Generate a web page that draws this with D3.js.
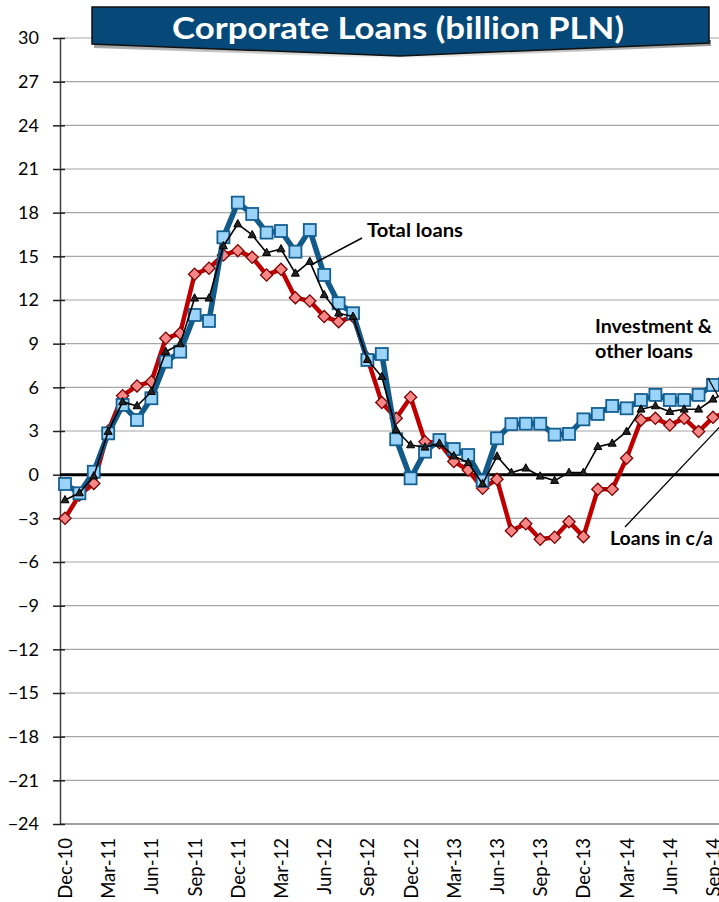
<!DOCTYPE html>
<html>
<head>
<meta charset="utf-8">
<script src="https://cdn.jsdelivr.net/npm/d3@7/dist/d3.min.js"></script>
<style>
  html, body { margin: 0; padding: 0; background: #fff; overflow: hidden; }
  svg { display: block; }
  text { font-family: Lato, "Open Sans", sans-serif; }
</style>
</head>
<body>
<script>
// ---- data ----
const months = ["Dec-10","Jan-11","Feb-11","Mar-11","Apr-11","May-11","Jun-11","Jul-11","Aug-11","Sep-11","Oct-11","Nov-11",
  "Dec-11","Jan-12","Feb-12","Mar-12","Apr-12","May-12","Jun-12","Jul-12","Aug-12","Sep-12","Oct-12","Nov-12",
  "Dec-12","Jan-13","Feb-13","Mar-13","Apr-13","May-13","Jun-13","Jul-13","Aug-13","Sep-13","Oct-13","Nov-13",
  "Dec-13","Jan-14","Feb-14","Mar-14","Apr-14","May-14","Jun-14","Jul-14","Aug-14","Sep-14","Oct-14"];
const tickLabels = ["Dec-10","Mar-11","Jun-11","Sep-11","Dec-11","Mar-12","Jun-12","Sep-12","Dec-12","Mar-13","Jun-13","Sep-13","Dec-13","Mar-14","Jun-14","Sep-14"];
const yTicks = [30,27,24,21,18,15,12,9,6,3,0,-3,-6,-9,-12,-15,-18,-21,-24];

const investmentLoans = [-0.64,-1.28,0.2,2.84,4.79,3.76,5.25,7.76,8.45,10.97,10.56,16.31,
  18.69,17.91,16.63,16.74,15.32,16.81,13.72,11.78,11.09,7.88,8.29,2.43,
  -0.25,1.58,2.38,1.76,1.35,-0.41,2.5,3.47,3.5,3.5,2.75,2.8,
  3.8,4.17,4.72,4.56,5.13,5.48,5.13,5.13,5.48,6.16,6.9];
const totalLoans = [-1.74,-1.26,-0.1,2.96,5.0,4.72,5.7,8.45,8.98,12.12,12.12,15.71,
  17.22,16.47,15.25,15.5,13.83,14.64,12.35,11.09,10.86,7.9,6.73,3.07,
  2.04,1.88,2.15,1.28,0.82,-0.64,1.26,0.14,0.44,-0.11,-0.41,0.14,
  0.14,1.92,2.15,2.96,4.49,4.72,4.33,4.49,4.49,5.18,5.7];
const currentAccountLoans = [-3.0,-1.4,-0.6,3.0,5.43,6.1,6.39,9.37,9.71,13.77,14.18,15.09,
  15.39,14.93,13.72,14.11,12.16,11.93,10.86,10.51,10.86,8.0,4.95,3.87,
  5.32,2.27,2.2,0.9,0.32,-0.94,-0.32,-3.86,-3.37,-4.44,-4.3,-3.23,
  -4.26,-1.01,-1.01,1.13,3.76,3.87,3.41,3.87,2.96,3.94,4.3];

const W = 719, H = 902;
const svg = d3.select("body").append("svg").attr("width", W).attr("height", H);

const x = d3.scaleLinear().domain([0, 45]).range([65, 713]);
const y = d3.scaleLinear().domain([-24, 30]).range([824, 38]);
const axisX = 60;

// gridlines
svg.append("g").selectAll("line").data(yTicks.filter(d => d !== 0 && d !== -24)).join("line")
  .attr("x1", axisX).attr("x2", W + 20)
  .attr("y1", d => y(d)).attr("y2", d => y(d))
  .attr("stroke", "#a6a6a6").attr("stroke-width", 1.2);

// bottom axis line
svg.append("line").attr("x1", axisX).attr("x2", W + 20).attr("y1", y(-24)).attr("y2", y(-24))
  .attr("stroke", "#7f7f7f").attr("stroke-width", 1.3);

// y axis
const yAxis = d3.axisLeft(y).tickValues(yTicks).tickSizeInner(7).tickSizeOuter(0).tickPadding(14)
  .tickFormat(d3.format("d"));
const gy = svg.append("g").attr("transform", `translate(${axisX},0)`).call(yAxis);
gy.select(".domain").attr("stroke", "#404040").attr("stroke-width", 1.5);
gy.selectAll(".tick line").attr("x2", 5).attr("x1", -7).attr("stroke", "#202020").attr("stroke-width", 1.5);
gy.selectAll(".tick text").attr("font-family", "Lato, sans-serif").attr("font-size", 18).attr("fill", "#000")
  .attr("x", -21);

// x axis labels
const xAxis = d3.axisBottom(x).tickValues(tickLabels.map(t => months.indexOf(t)))
  .tickFormat(i => months[i]).tickSize(0).tickPadding(0);
const gx = svg.append("g").attr("transform", `translate(0,${y(-24)})`).call(xAxis);
gx.select(".domain").remove();
gx.selectAll(".tick text")
  .attr("font-family", "Lato, sans-serif").attr("font-size", 18.5).attr("fill", "#000")
  .attr("transform", "rotate(-90)")
  .attr("text-anchor", "end").attr("x", -14).attr("y", 0).attr("dy", "0.35em");

// zero line
svg.append("line").attr("x1", axisX).attr("x2", W + 20).attr("y1", y(0)).attr("y2", y(0))
  .attr("stroke", "#000").attr("stroke-width", 3);

const line = d3.line().x((d, i) => x(i)).y(d => y(d));

// red series (loans in c/a)
svg.append("path").datum(currentAccountLoans).attr("d", line)
  .attr("fill", "none").attr("stroke", "#c00000").attr("stroke-width", 4.5).attr("stroke-linejoin", "round");
svg.append("g").selectAll("path").data(currentAccountLoans).join("path")
  .attr("transform", (d, i) => `translate(${x(i)},${y(d)}) rotate(45)`)
  .attr("d", "M-4.3,-4.3H4.3V4.3H-4.3Z")
  .attr("fill", "#f78686").attr("stroke", "#7a0000").attr("stroke-width", 1.3);

// blue series (investment & other loans)
svg.append("path").datum(investmentLoans).attr("d", line)
  .attr("fill", "none").attr("stroke", "#125a8a").attr("stroke-width", 5.5).attr("stroke-linejoin", "round");
svg.append("g").selectAll("rect").data(investmentLoans).join("rect")
  .attr("x", (d, i) => x(i) - 6).attr("y", d => y(d) - 6)
  .attr("width", 12).attr("height", 12)
  .attr("fill", "#9bd4f8").attr("stroke", "#155f91").attr("stroke-width", 1.8);

// black series (total loans)
svg.append("path").datum(totalLoans).attr("d", line)
  .attr("fill", "none").attr("stroke", "#000").attr("stroke-width", 1.6).attr("stroke-linejoin", "round");
svg.append("g").selectAll("path").data(totalLoans).join("path")
  .attr("transform", (d, i) => `translate(${x(i)},${y(d)})`)
  .attr("d", "M0,-4.5L4,2.8H-4Z")
  .attr("fill", "#222").attr("stroke", "#000").attr("stroke-width", 1);

// annotations
const ann = svg.append("g").attr("font-family", "Lato, sans-serif").attr("font-weight", "bold")
  .attr("font-size", 19).attr("fill", "#000");
ann.append("line").attr("x1", 362).attr("y1", 238).attr("x2", 311).attr("y2", 265)
  .attr("stroke", "#000").attr("stroke-width", 1.5);
ann.append("text").attr("x", 367).attr("y", 237).attr("textLength", 96).attr("lengthAdjust", "spacingAndGlyphs").text("Total loans");
ann.append("text").attr("x", 595).attr("y", 333).attr("textLength", 117).attr("lengthAdjust", "spacingAndGlyphs").text("Investment &");
ann.append("text").attr("x", 595).attr("y", 358).attr("textLength", 98).attr("lengthAdjust", "spacingAndGlyphs").text("other loans");
ann.append("line").attr("x1", 708).attr("y1", 378).attr("x2", 718).attr("y2", 396)
  .attr("stroke", "#000").attr("stroke-width", 1.3);
ann.append("text").attr("x", 610).attr("y", 545).attr("textLength", 103).attr("lengthAdjust", "spacingAndGlyphs").text("Loans in c/a");
ann.append("line").attr("x1", 625).attr("y1", 527).attr("x2", 730).attr("y2", 416)
  .attr("stroke", "#000").attr("stroke-width", 1.3);

// title banner
const defs = svg.append("defs");
const grad = defs.append("linearGradient").attr("id", "shadow").attr("x1", 0).attr("y1", 0).attr("x2", 0).attr("y2", 1);
grad.append("stop").attr("offset", "0%").attr("stop-color", "#000").attr("stop-opacity", 0.55);
grad.append("stop").attr("offset", "100%").attr("stop-color", "#000").attr("stop-opacity", 0);
svg.append("polygon").attr("points", "94,40 711,40 711,46 401,59 94,48")
  .attr("fill", "url(#shadow)");
svg.append("polygon").attr("points", "92,7 709,7 709,43 400,56 92,44")
  .attr("fill", "#064878").attr("stroke", "#111").attr("stroke-width", 1.5);
svg.append("text").attr("x", 398).attr("y", 39).attr("text-anchor", "middle")
  .attr("font-family", "Lato, sans-serif").attr("font-weight", "bold").attr("font-size", 31)
  .attr("fill", "#fff").attr("textLength", 452).attr("lengthAdjust", "spacingAndGlyphs")
  .text("Corporate Loans (billion PLN)");
</script>
</body>
</html>
